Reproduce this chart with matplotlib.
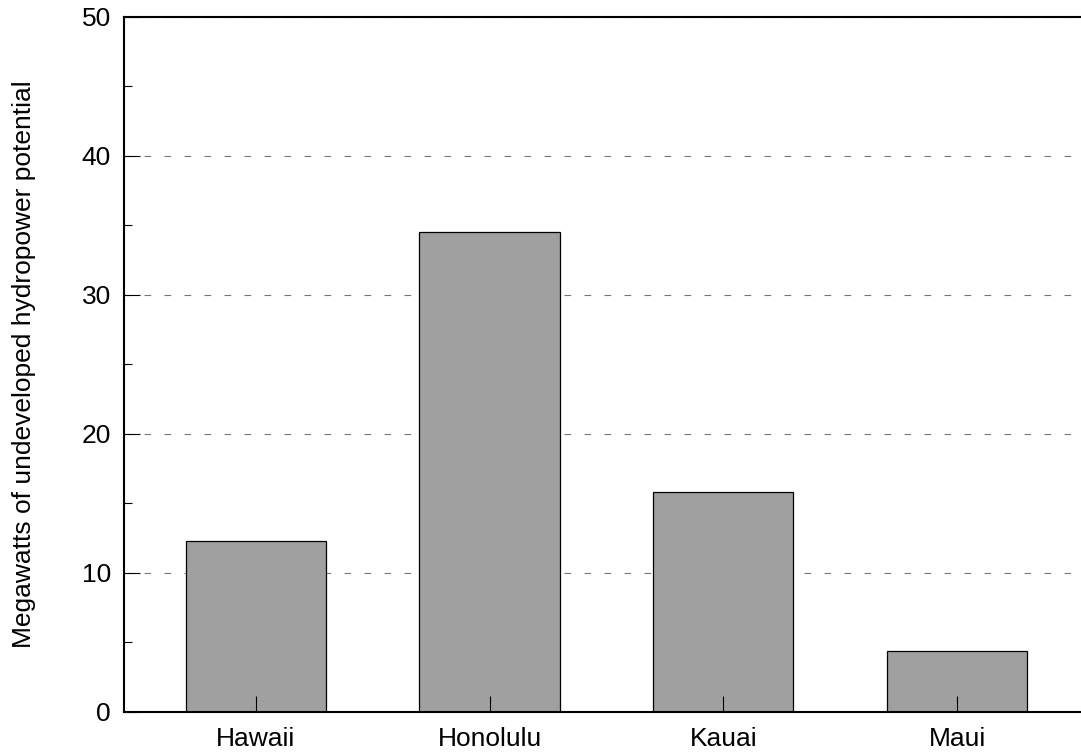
import matplotlib.pyplot as plt
from matplotlib.ticker import MultipleLocator

islands = ['Hawaii', 'Honolulu', 'Kauai', 'Maui']
megawatts = [12.3, 34.5, 15.8, 4.4]

plt.rcParams['font.family'] = ['Liberation Sans', 'DejaVu Sans']

fig = plt.figure(figsize=(10.81, 7.55), dpi=100)
ax = fig.add_axes([0.1147, 0.057, 0.8853, 0.9205])

x = range(len(islands))
ax.bar(x, megawatts, width=0.6, color='#a0a0a0', edgecolor='black', linewidth=0.9, zorder=1)

ax.set_xlim(-0.564, 3.53)
ax.set_ylim(0, 50)
ax.set_xticks(list(x))
ax.set_xticklabels(islands)
ax.yaxis.set_major_locator(MultipleLocator(10))
ax.yaxis.set_minor_locator(MultipleLocator(5))
ax.set_ylabel('Megawatts of undeveloped hydropower potential', fontsize=19)
ax.yaxis.set_label_coords(-0.092, 0.5)

# dashed guides behind the bars, ticks drawn on top
ax.set_axisbelow(False)
for y in ax.get_yticks()[1:-1]:
    ax.axhline(y, color='#777777', linestyle=(0, (6, 12)), linewidth=0.8, zorder=0.5)

ax.tick_params(axis='both', which='major', direction='in', length=11.5, width=0.8,
               labelsize=19)
ax.tick_params(axis='y', which='major', pad=9.5)
ax.tick_params(axis='y', which='minor', direction='in', length=5.8, width=0.8)
ax.tick_params(axis='x', which='major', pad=11)

for side in ['left', 'bottom', 'top']:
    ax.spines[side].set_linewidth(1.5)
ax.spines['right'].set_visible(False)

fig.savefig('out.png', dpi=100)
